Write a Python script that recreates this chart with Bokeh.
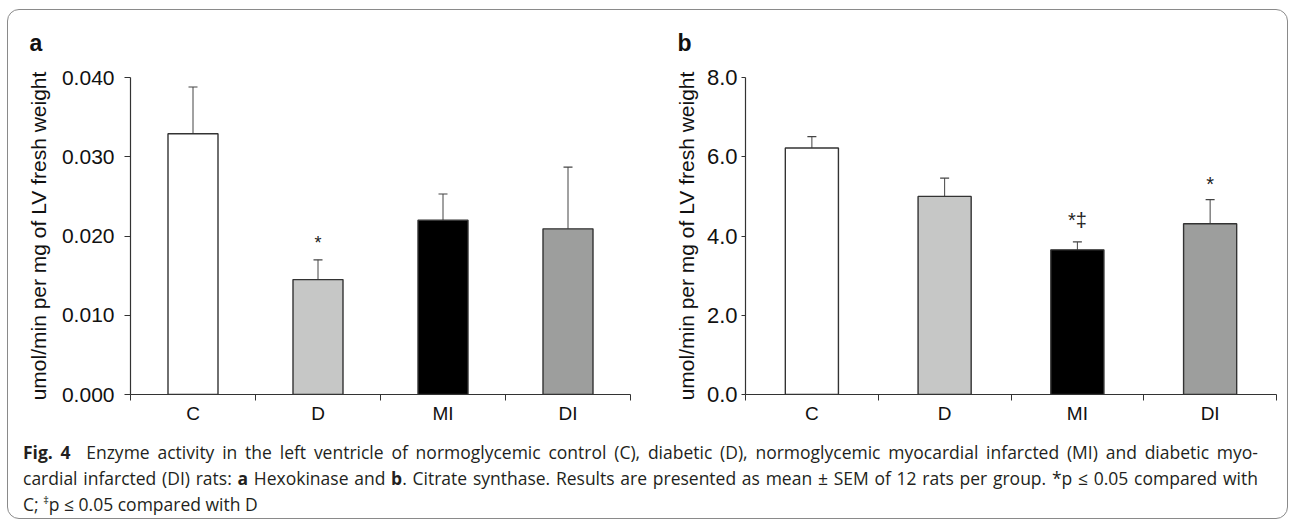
from bokeh.plotting import figure
from bokeh.models import (Range1d, FixedTicker, NumeralTickFormatter, Whisker,
                          ColumnDataSource, Div, TeeHead)
from bokeh.layouts import row, column
from bokeh.embed import file_html
from bokeh.resources import INLINE
from bokeh.core.properties import value

# ---------------- data ----------------
categories = ["C", "D", "MI", "DI"]
bar_colors = ["#ffffff", "#c6c7c6", "#000000", "#9d9e9d"]

# panel a: hexokinase
hk_mean = [0.0329, 0.0145, 0.0220, 0.0209]
hk_upper = [0.0388, 0.0170, 0.0253, 0.0287]
hk_marks = ["", "*", "", ""]
hk_ticks = [0.0, 0.01, 0.02, 0.03, 0.04]

# panel b: citrate synthase
cs_mean = [6.22, 5.00, 3.65, 4.31]
cs_upper = [6.51, 5.46, 3.85, 4.92]
cs_marks = ["", "", "*\u2021", "*"]
cs_ticks = [0.0, 2.0, 4.0, 6.0, 8.0]

y_label = "umol/min per mg of LV fresh weight"
FONT = "Liberation Sans"
SHIFT = 10


def make_panel(letter, means, upper, marks, ticks, fmt, width, bl, br, top, bottom,
               tick_out, tick_std, ytick_size, label_std, title_off, mark_size, star_lift):
    H = 424 + SHIFT
    xs = [i + 0.5 for i in range(len(categories))]
    p = figure(width=width, height=H, output_backend="svg", toolbar_location=None,
               x_range=Range1d(0, len(categories)),
               y_range=Range1d(ticks[0], ticks[-1]))
    p.min_border_left = bl
    p.min_border_right = br
    p.min_border_top = top + SHIFT
    p.min_border_bottom = bottom
    p.outline_line_color = None
    p.grid.visible = False
    p.background_fill_color = "white"
    p.border_fill_color = None

    # pixel lift of each significance mark above its error bar (style only)
    lifts = [-22 if "\u2021" in m else star_lift for m in marks]
    src = ColumnDataSource(dict(x=xs, top=means, upper=upper, color=bar_colors,
                                marks=marks, lift=lifts))
    p.vbar(x="x", top="top", bottom=0, width=0.4, fill_color="color",
           line_color="#333333", line_width=1.4, source=src)
    w = Whisker(base="x", lower="top", upper="upper", source=src,
                line_color="#444444", line_width=1,
                lower_head=None,
                upper_head=TeeHead(size=9, line_color="#444444", line_width=1.2))
    p.add_layout(w)
    p.text(x="x", y="upper", text="marks", source=src, text_align="center",
           text_baseline="middle", y_offset="lift", text_font=value(FONT),
           text_font_size=f"{mark_size}px", text_color="#222222")

    # x axis
    xa = p.xaxis[0]
    xa.ticker = FixedTicker(ticks=xs, minor_ticks=list(range(len(categories) + 1)))
    xa.major_label_overrides = {x: c for x, c in zip(xs, categories)}
    xa.major_tick_out = 0
    xa.major_tick_in = 0
    xa.minor_tick_out = 6
    xa.minor_tick_in = 0
    xa.minor_tick_line_color = "#333333"
    xa.axis_line_color = "#333333"
    xa.axis_line_width = 1.2
    xa.major_label_text_font = FONT
    xa.major_label_text_font_size = "19px"
    xa.major_label_text_color = "#111111"
    xa.major_label_standoff = 2

    # y axis
    ya = p.yaxis[0]
    ya.ticker = FixedTicker(ticks=ticks)
    ya.formatter = NumeralTickFormatter(format=fmt)
    ya.major_tick_out = tick_out
    ya.major_tick_in = 0
    ya.minor_tick_line_color = None
    ya.major_tick_line_color = "#333333"
    ya.axis_line_color = "#333333"
    ya.axis_line_width = 1.2
    ya.major_label_text_font = FONT
    ya.major_label_text_font_size = ytick_size
    ya.major_label_text_color = "#111111"
    ya.major_label_standoff = tick_std
    ya.axis_label = y_label
    ya.axis_label_text_font = FONT
    ya.axis_label_text_font_size = "21px"
    ya.axis_label_text_font_style = "normal"
    ya.axis_label_text_color = "#111111"
    ya.axis_label_standoff = label_std

    p.title.text = letter
    p.title.text_font = FONT
    p.title.text_font_size = "23px"
    p.title.text_font_style = "bold"
    p.title.text_color = "#111111"
    p.title.align = "left"
    p.title.offset = title_off
    p.title.standoff = 44
    return p


p1 = make_panel("a", hk_mean, hk_upper, hk_marks, hk_ticks, "0.000",
                width=640, bl=122, br=18, top=66, bottom=39,
                tick_out=6, tick_std=10, ytick_size="21px", label_std=9,
                title_off=-101, mark_size=18, star_lift=-17)
p2 = make_panel("b", cs_mean, cs_upper, cs_marks, cs_ticks, "0.0",
                width=639, bl=97, br=11, top=67, bottom=40,
                tick_out=4, tick_std=4, ytick_size="22px", label_std=6,
                title_off=-68, mark_size=20, star_lift=-16)

line_style = ("width:1235px; white-space:nowrap; text-align:justify; "
              "text-align-last:justify; font-size:17.5px; line-height:26px;")
caption_html = (
    '<div style="font-family:\'Open Sans\'; font-size:17.5px; line-height:26px; '
    'color:#231f20; padding-left:10px;">'
    f'<div style="{line_style}"><b>Fig. 4</b>&nbsp; Enzyme activity in the left ventricle of '
    'normoglycemic control (C), diabetic (D), normoglycemic myocardial infarcted (MI) '
    'and diabetic myo-</div>'
    f'<div style="{line_style}">cardial infarcted (DI) rats: <b>a</b> Hexokinase and '
    '<b>b</b>. Citrate synthase. Results are presented as mean \u00b1 SEM of 12 rats per '
    'group. *p \u2264 0.05 compared with</div>'
    '<div style="font-size:17.5px; line-height:26px;">C; '
    '<sup style="font-size:11px; line-height:0;">\u2021</sup>p \u2264 0.05 compared with D</div>'
    '</div>'
)
cap = Div(text=caption_html, width=1279, height=84,
          styles={"font-family": "'Open Sans'", "font-size": "17.5px"})

panels = row(p1, p2, margin=(-SHIFT, 0, 0, 0))
layout = column(panels, cap, margin=(9, 0, 0, 7), width=1281, height=510,
                styles={"border": "1px solid #8a8a8a", "border-radius": "12px",
                        "background-color": "white"})

open("out.html", "w").write(file_html(layout, INLINE))
